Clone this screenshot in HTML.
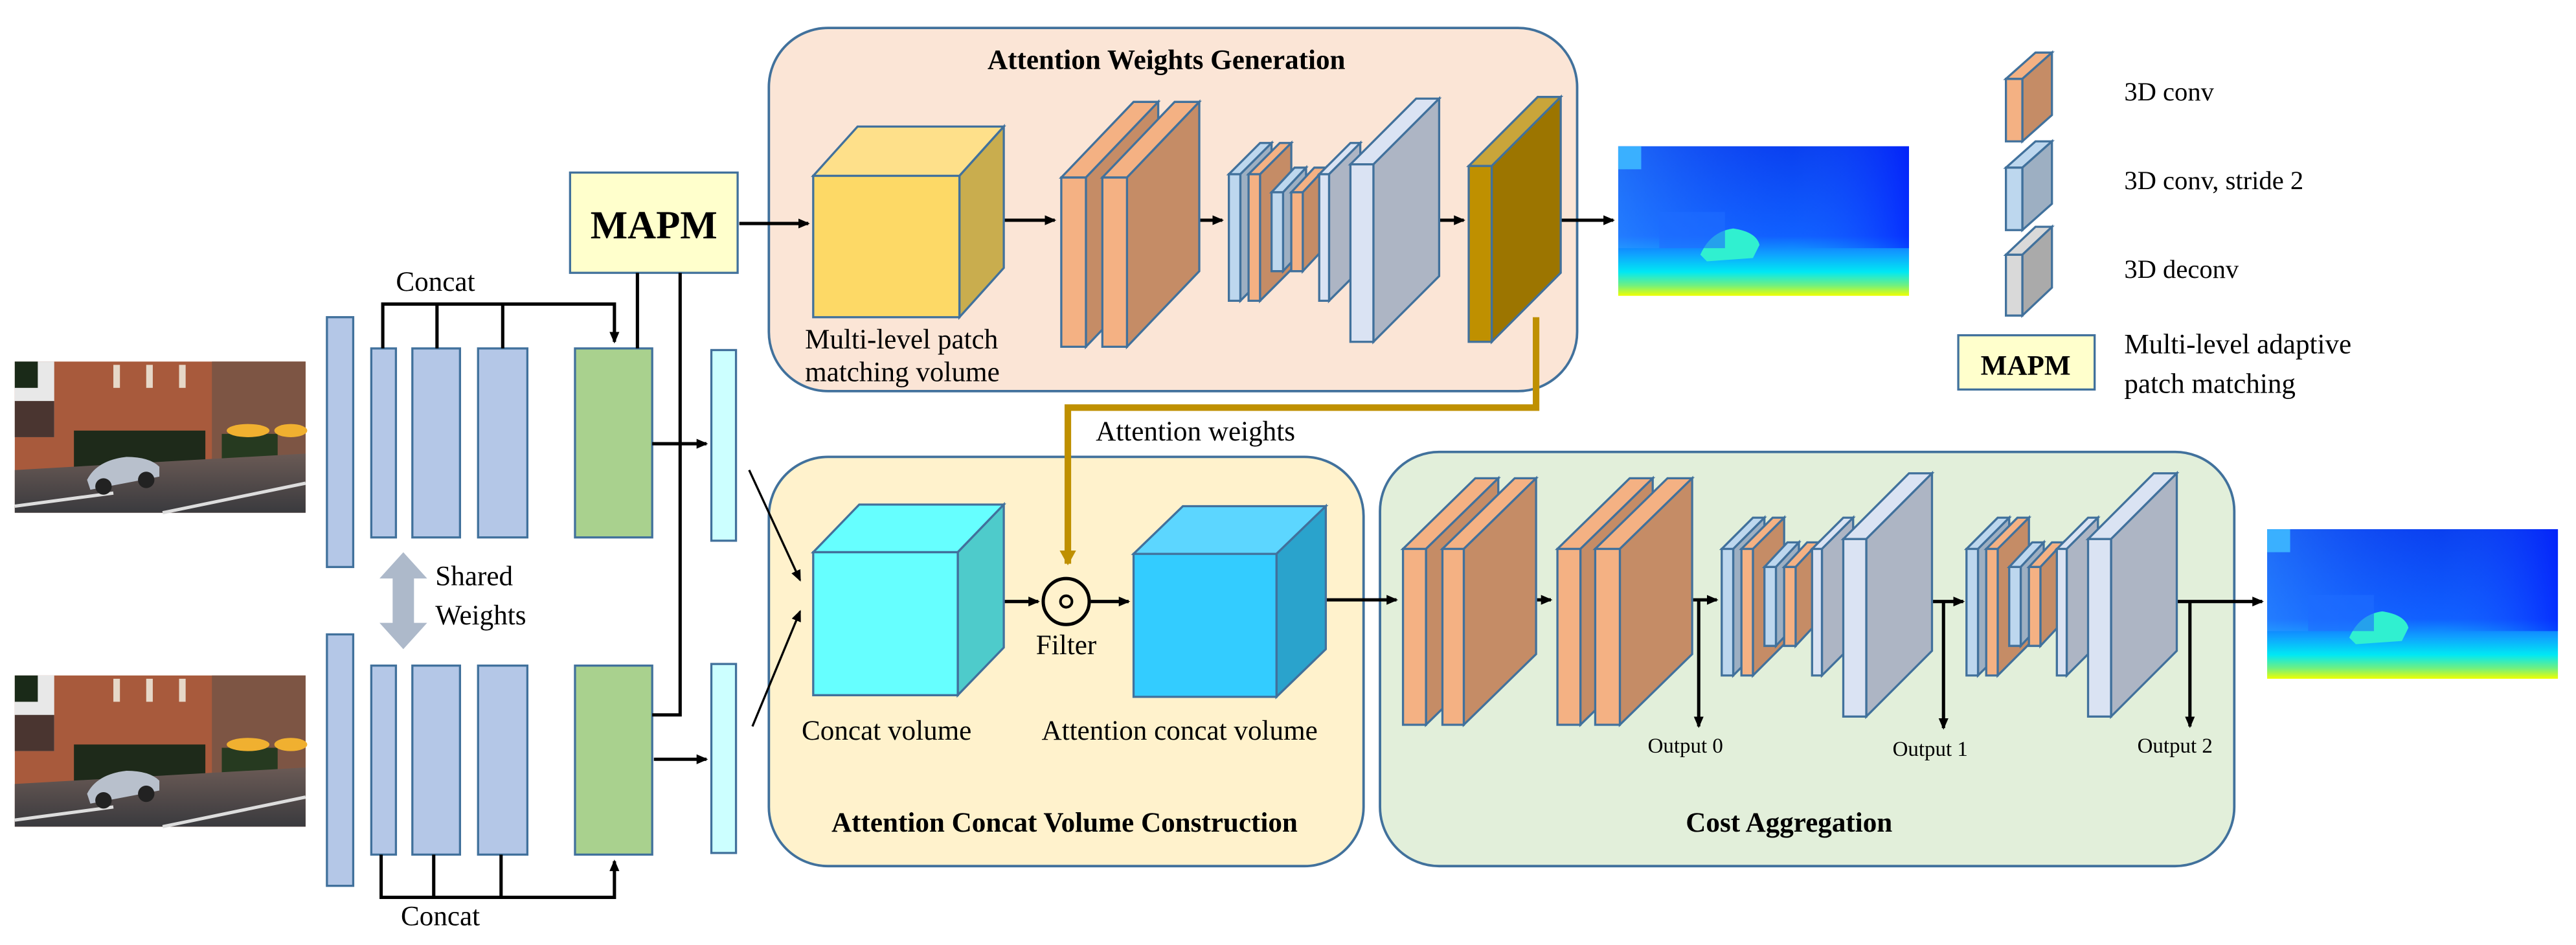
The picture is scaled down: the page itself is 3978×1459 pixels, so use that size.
<!DOCTYPE html>
<html><head><meta charset="utf-8"><style>
html,body{margin:0;padding:0;background:#fff;}
svg{display:block;font-family:"Liberation Serif","DejaVu Serif",serif;}
svg text{font-family:"Liberation Serif","DejaVu Serif",serif;fill:#000;}
.b{font-weight:bold;}
</style></head><body>
<svg id="s" width="3978" height="1459" viewBox="0 0 1568 575" preserveAspectRatio="none" xmlns="http://www.w3.org/2000/svg" font-family="Liberation Serif, DejaVu Serif, serif">
<defs>
<marker id="ah" markerWidth="8" markerHeight="8" refX="6" refY="3" orient="auto" markerUnits="userSpaceOnUse"><path d="M0,0 L7,3 L0,6 z" fill="#000"/></marker>
<marker id="gh" markerWidth="12" markerHeight="12" refX="8" refY="5" orient="auto" markerUnits="userSpaceOnUse"><path d="M0,0 L9,5 L0,10 z" fill="#bf9000"/></marker>
<linearGradient id="dep" x1="0" y1="0" x2="0" y2="1">
<stop offset="0" stop-color="#0a40f0"/><stop offset="0.6" stop-color="#1060ff"/><stop offset="0.72" stop-color="#10a0ff"/><stop offset="0.84" stop-color="#00e8f4"/><stop offset="0.93" stop-color="#70f080"/><stop offset="1" stop-color="#f0ff00"/></linearGradient>
<linearGradient id="deph" x1="0" y1="0" x2="1" y2="0">
<stop offset="0" stop-color="#3aa0ff" stop-opacity="0.45"/><stop offset="0.6" stop-color="#2060ff" stop-opacity="0"/><stop offset="1" stop-color="#0010ff" stop-opacity="0.6"/></linearGradient>
<linearGradient id="road" x1="0" y1="0" x2="0" y2="1"><stop offset="0" stop-color="#6a5a55"/><stop offset="1" stop-color="#3a3a3e"/></linearGradient>
<g id="street">
<rect x="0" y="0" width="177" height="92" fill="#a85a3c"/>
<rect x="0" y="0" width="24" height="46" fill="#e8e8e8"/>
<rect x="0" y="0" width="14" height="16" fill="#1a2a18"/>
<rect x="0" y="24" width="24" height="22" fill="#4a3530"/>
<rect x="120" y="0" width="57" height="60" fill="#7d5544"/>
<rect x="60" y="2" width="4" height="14" fill="#e6d8c8"/><rect x="80" y="2" width="4" height="14" fill="#e6d8c8"/><rect x="100" y="2" width="4" height="14" fill="#e6d8c8"/>
<rect x="36" y="42" width="80" height="24" fill="#1e2a1a"/>
<rect x="126" y="44" width="34" height="18" fill="#263a20"/>
<ellipse cx="142" cy="42" rx="13" ry="4" fill="#f0b030"/>
<ellipse cx="168" cy="42" rx="10" ry="4" fill="#f0b030"/>
<path d="M0,66 L177,56 L177,92 L0,92 z" fill="url(#road)"/>
<path d="M0,88 L60,80 M90,92 L177,74" stroke="#ddd" stroke-width="2"/>
<path d="M44,72 Q50,60 68,58 Q82,58 88,64 L88,70 L46,78 z" fill="#b8c0cc"/>
<circle cx="54" cy="76" r="5" fill="#222"/><circle cx="80" cy="72" r="5" fill="#222"/>
</g>
<g id="depth">
<rect x="0" y="0" width="177" height="91" fill="url(#dep)"/>
<rect x="0" y="0" width="177" height="62" fill="url(#deph)"/>
<rect x="0" y="0" width="14" height="14" fill="#3ab0ff"/>
<path d="M50,66 Q56,52 70,50 Q84,52 86,60 L82,68 L54,70 z" fill="#30f0d0"/>
<rect x="25" y="40" width="40" height="22" fill="#1e6cff" opacity="0.6"/>
</g>
</defs>

<rect x="468" y="17" width="492" height="221" rx="36" fill="#fbe5d6" stroke="#41719c" stroke-width="1.5"/>
<rect x="468" y="278" width="362" height="249" rx="36" fill="#fff2cc" stroke="#41719c" stroke-width="1.5"/>
<rect x="840" y="275" width="520" height="252" rx="36" fill="#e2efda" stroke="#41719c" stroke-width="1.5"/>

<use href="#street" x="9" y="220"/>
<use href="#street" x="9" y="411"/>
<use href="#depth" x="985" y="89"/>
<use href="#depth" x="1380" y="322"/>

<g stroke="#41719c" stroke-width="1.3">
<rect x="199" y="193" width="16" height="152" fill="#b4c7e7"/>
<rect x="199" y="386" width="16" height="153" fill="#b4c7e7"/>
<rect x="226" y="212" width="15" height="115" fill="#b4c7e7"/>
<rect x="251" y="212" width="29" height="115" fill="#b4c7e7"/>
<rect x="291" y="212" width="30" height="115" fill="#b4c7e7"/>
<rect x="350" y="212" width="47" height="115" fill="#a9d18e"/>
<rect x="433" y="213" width="15" height="116" fill="#ccffff"/>
<rect x="226" y="405" width="15" height="115" fill="#b4c7e7"/>
<rect x="251" y="405" width="29" height="115" fill="#b4c7e7"/>
<rect x="291" y="405" width="30" height="115" fill="#b4c7e7"/>
<rect x="350" y="405" width="47" height="115" fill="#a9d18e"/>
<rect x="433" y="404" width="15" height="115" fill="#ccffff"/>
<rect x="347" y="105" width="102" height="61" fill="#ffffcc"/>
<rect x="1192" y="204" width="83" height="33" fill="#ffffcc"/>
</g>
<text x="398" y="145" font-size="24" class="b" text-anchor="middle">MAPM</text>
<text x="1233" y="228" font-size="17" class="b" text-anchor="middle">MAPM</text>

<path d="M245.5,336 L260,352 L252,352 L252,379 L260,379 L245.5,395 L231,379 L239,379 L239,352 L231,352 z" fill="#adb9ca"/>
<text x="265" y="356" font-size="17">Shared</text>
<text x="265" y="380" font-size="17">Weights</text>

<g stroke="#000" stroke-width="2" fill="none">
<path d="M233,212 V185 H374 V208" marker-end="url(#ah)"/>
<path d="M266,185 V212 M306,185 V212"/>
<path d="M232,520 V546 H374 V524" marker-end="url(#ah)"/>
<path d="M264,520 V546 M305,520 V546"/>
<path d="M388,166 V212"/>
<path d="M414,166 V435 H397"/>
<path d="M397,270 H430" marker-end="url(#ah)"/>
<path d="M398,462 H430" marker-end="url(#ah)"/>
<path d="M456,286 L487,353" stroke-width="1.3" marker-end="url(#ah)"/>
<path d="M458,442 L487,372" stroke-width="1.3" marker-end="url(#ah)"/>
<path d="M450,136 H492" marker-end="url(#ah)"/>
<path d="M611,134 H642" marker-end="url(#ah)"/>
<path d="M714,134 H744" marker-end="url(#ah)"/>
<path d="M858,134 H891" marker-end="url(#ah)"/>
<path d="M950,134 H982" marker-end="url(#ah)"/>
<path d="M611,366 H632" marker-end="url(#ah)"/>
<path d="M664,366 H687" marker-end="url(#ah)"/>
<path d="M807,365 H850" marker-end="url(#ah)"/>
<path d="M921,365 H944" marker-end="url(#ah)"/>
<path d="M1014,365 H1045" marker-end="url(#ah)"/>
<path d="M1034,365 V442" marker-end="url(#ah)"/>
<path d="M1164,366 H1195" marker-end="url(#ah)"/>
<path d="M1183,366 V443" marker-end="url(#ah)"/>
<path d="M1324,366 H1377" marker-end="url(#ah)"/>
<path d="M1333,366 V442" marker-end="url(#ah)"/>
</g>
<path d="M935,193 V248 H650 V343" stroke="#bf9000" stroke-width="4" fill="none" marker-end="url(#gh)"/>
<circle cx="649" cy="366" r="14" fill="none" stroke="#000" stroke-width="2"/>
<circle cx="649" cy="366" r="3.5" fill="none" stroke="#000" stroke-width="1.6"/>

<g id="shapes" stroke="#41719c" stroke-width="1.3"></g>

<text x="710" y="42" font-size="17" class="b" text-anchor="middle">Attention Weights Generation</text>
<text x="490" y="212" font-size="17">Multi-level patch</text>
<text x="490" y="232" font-size="17">matching volume</text>
<text x="667" y="268" font-size="17">Attention weights</text>
<text x="649" y="398" font-size="17" text-anchor="middle">Filter</text>
<text x="488" y="450" font-size="17">Concat volume</text>
<text x="634" y="450" font-size="17">Attention concat volume</text>
<text x="648" y="506" font-size="17" class="b" text-anchor="middle">Attention Concat Volume Construction</text>
<text x="1089" y="506" font-size="17" class="b" text-anchor="middle">Cost Aggregation</text>
<text x="1003" y="458" font-size="13">Output 0</text>
<text x="1152" y="460" font-size="13">Output 1</text>
<text x="1301" y="458" font-size="13">Output 2</text>
<text x="241" y="177" font-size="17">Concat</text>
<text x="244" y="563" font-size="17">Concat</text>
<text x="1293" y="61" font-size="16">3D conv</text>
<text x="1293" y="115" font-size="16">3D conv, stride 2</text>
<text x="1293" y="169" font-size="16">3D deconv</text>
<text x="1293" y="215" font-size="17">Multi-level adaptive</text>
<text x="1293" y="239" font-size="17">patch matching</text>
</svg>
<script>
var g=document.getElementById('shapes'),NS='http://www.w3.org/2000/svg';
function poly(pts,f){var p=document.createElementNS(NS,'polygon');p.setAttribute('points',pts.map(function(a){return a.join(',')}).join(' '));p.setAttribute('fill',f);g.appendChild(p);}
function plate(x,y,w,h,dx,dy,front,top,side){
poly([[x,y],[x+dx,y-dy],[x+w+dx,y-dy],[x+w,y]],top);
poly([[x+w,y],[x+w+dx,y-dy],[x+w+dx,y+h-dy],[x+w,y+h]],side);
poly([[x,y],[x+w,y],[x+w,y+h],[x,y+h]],front);}
var O=['#f4b183','#f4b183','#c58c66'],B=['#bdd7ee','#bdd7ee','#9dafc2'],D=['#dae3f3','#dae3f3','#adb5c4'];
function P(x,y,w,h,dx,dy,c){plate(x,y,w,h,dx,dy,c[0],c[1],c[2]);}
function group(ox,oy){
P(1048+ox,334+oy,7,77,19,19,B);P(1060+ox,334+oy,7,77,19,19,O);
P(1074+ox,345+oy,7,48,14,15,B);P(1086+ox,345+oy,7,48,14,15,O);
P(1103+ox,334+oy,6,77,19,19,D);P(1122+ox,328+oy,14,108,40,40,D);}
P(495,107,89,86,27,30,['#fdd966','#fee08a','#c9ad4e']);
P(495,336,88,87,28,29,['#66ffff','#66ffff','#4ecbcb']);
P(690,337,87,87,30,29,['#33ccff','#5cd6ff','#2aa3cc']);
P(646,108,15,103,44,46,O);P(671,108,15,103,44,46,O);
group(-300,-228);
P(894,101,14,107,42,42,['#bf9000','#c9a53a','#9c7500']);
P(854,334,14,107,44,43,O);P(878,334,13,107,44,43,O);
P(948,334,14,107,44,43,O);P(971,334,15,107,44,43,O);
group(0,0);group(149,0);
P(1221,48,10,38,18,16,O);P(1221,102,10,38,18,16,B);
P(1221,155,10,37,18,17,['#d9d9d9','#d9d9d9','#aaaaaa']);
</script>
</body></html>
